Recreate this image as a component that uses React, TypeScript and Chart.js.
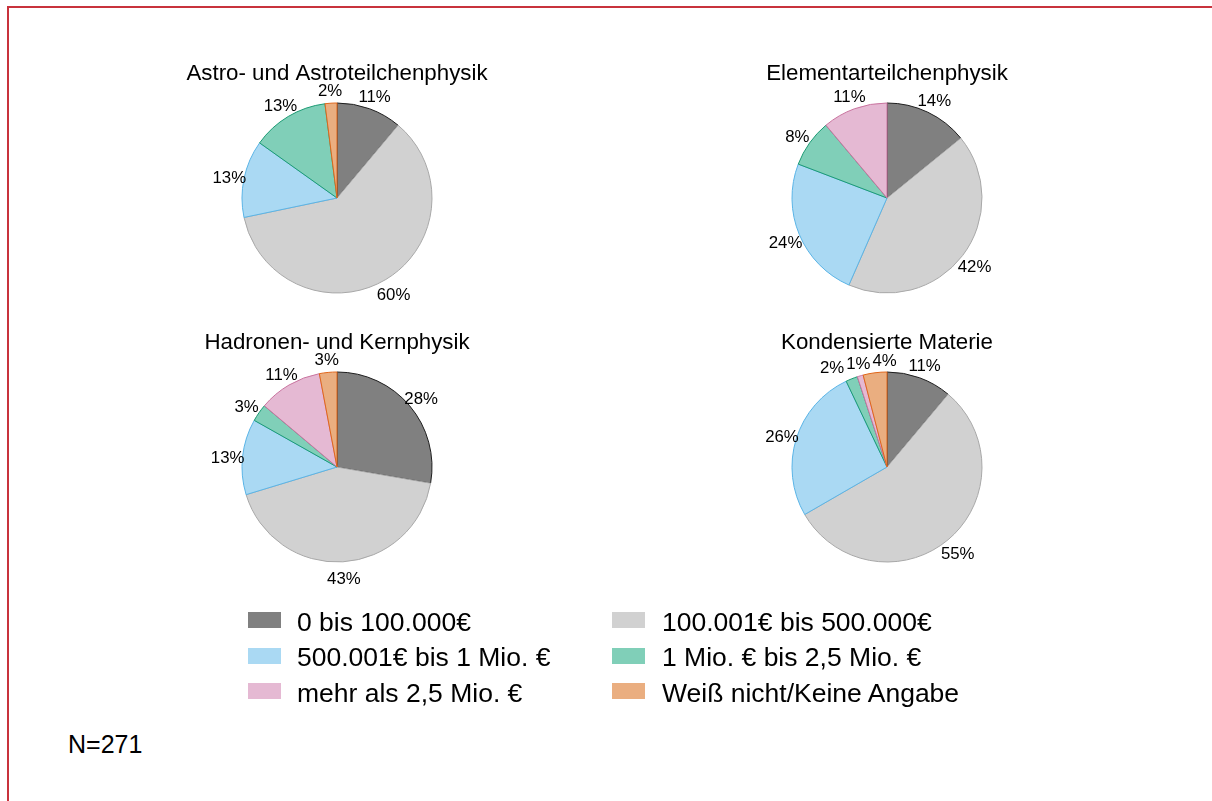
import React, { useEffect, useRef } from 'react';
import { Chart, registerables } from 'chart.js';

Chart.register(...registerables);

// ---------- data ----------
const categories = [
  '0 bis 100.000€',
  '100.001€ bis 500.000€',
  '500.001€ bis 1 Mio. €',
  '1 Mio. € bis 2,5 Mio. €',
  'mehr als 2,5 Mio. €',
  'Weiß nicht/Keine Angabe',
];
const panelTitles = [
  'Astro- und Astroteilchenphysik',
  'Elementarteilchenphysik',
  'Hadronen- und Kernphysik',
  'Kondensierte Materie',
];
const astroValues = [11, 60, 13, 13, 0, 2];
const elementarValues = [14, 42, 24, 8, 11, 0];
const hadronenValues = [28, 43, 13, 3, 11, 3];
const kondensiertValues = [11, 55, 26, 2, 1, 4];
const panelValues = [astroValues, elementarValues, hadronenValues, kondensiertValues];
const sampleNote = 'N=271';

// ---------- styles ----------
const FILLS = ['#808080', '#d1d1d1', '#aad9f3', '#80cfb8', '#e5b9d3', '#eaae80'];
const EDGES = ['#1e1e1e', '#a8a8a8', '#5ab4e6', '#1b9a73', '#c9749f', '#e0661a'];
const FONT = '"Liberation Sans", Arial, Helvetica, sans-serif';
const PIE_R = 95;
const CANVAS_W = 440;
const CANVAS_H = 280;
const CENTERS: [number, number][] = [
  [337, 198],
  [887, 198],
  [337, 467],
  [887, 467],
];

type Lbl = { text: string; x: number; y: number; w: number };

const pieDecor = {
  id: 'pieDecor',
  afterDraw(chart: any, _args: any, opts: any) {
    const ctx: CanvasRenderingContext2D = chart.ctx;
    const meta = chart.getDatasetMeta(0);
    const values: number[] = chart.data.datasets[0].data;
    const first = meta.data[0].getProps(['x', 'y', 'outerRadius'], true);
    ctx.save();
    ctx.fillStyle = '#000';
    ctx.textAlign = 'center';
    ctx.textBaseline = 'alphabetic';
    ctx.font = `22.3px ${FONT}`;
    ctx.fillText(opts.title, first.x, first.y - first.outerRadius - 23);

    ctx.font = `16.8px ${FONT}`;
    ctx.textBaseline = 'middle';
    const labels: Lbl[] = [];
    meta.data.forEach((arc: any, i: number) => {
      const v = values[i];
      if (!v) return;
      const p = arc.getProps(['startAngle', 'endAngle', 'outerRadius', 'x', 'y'], true);
      const mid = (p.startAngle + p.endAngle) / 2;
      const R = p.outerRadius + 15;
      const text = `${v}%`;
      labels.push({
        text,
        x: p.x + R * Math.cos(mid),
        y: p.y + R * Math.sin(mid) + 3,
        w: ctx.measureText(text).width,
      });
    });
    for (let it = 0; it < 40; it++) {
      for (let a = 0; a < labels.length; a++) {
        for (let b = a + 1; b < labels.length; b++) {
          const A = labels[a];
          const B = labels[b];
          if (Math.abs(A.y - B.y) >= 14) continue;
          const need = (A.w + B.w) / 2 + 2;
          const dx = B.x - A.x;
          if (Math.abs(dx) >= need) continue;
          const push = ((need - Math.abs(dx)) / 2) * (dx >= 0 ? 1 : -1);
          A.x -= push;
          B.x += push;
        }
      }
    }
    labels.forEach((l) => ctx.fillText(l.text, l.x, l.y));
    ctx.restore();
  },
};

function PiePanel({ title, values, cx, cy }: { title: string; values: number[]; cx: number; cy: number }) {
  const ref = useRef<HTMLCanvasElement | null>(null);
  useEffect(() => {
    if (!ref.current) return;
    const padV = (CANVAS_H - 2 * PIE_R - 1) / 2;
    const padH = (CANVAS_W - 2 * PIE_R - 1) / 2;
    const chart = new Chart(ref.current, {
      type: 'pie',
      data: {
        labels: categories,
        datasets: [
          {
            data: values,
            backgroundColor: FILLS,
            borderColor: EDGES,
            borderWidth: 1,
            hoverOffset: 0,
          },
        ],
      },
      options: {
        responsive: false,
        maintainAspectRatio: false,
        animation: false,
        layout: { padding: { top: padV, bottom: padV, left: padH, right: padH } },
        plugins: {
          legend: { display: false },
          tooltip: { enabled: false },
          title: { display: false },
          // @ts-ignore
          pieDecor: { title },
        },
      } as any,
      plugins: [pieDecor as any],
    });
    return () => chart.destroy();
  }, [title, values]);
  return (
    <canvas
      ref={ref}
      width={CANVAS_W}
      height={CANVAS_H}
      style={{
        position: 'absolute',
        left: cx - CANVAS_W / 2,
        top: cy - CANVAS_H / 2,
        width: CANVAS_W,
        height: CANVAS_H,
      }}
    />
  );
}

export default function App() {
  return (
    <div
      style={{
        position: 'absolute',
        left: 0,
        top: 0,
        width: 1212,
        height: 801,
        overflow: 'hidden',
        background: '#fff',
        fontFamily: FONT,
        color: '#000',
      }}
    >
      <div
        style={{
          position: 'absolute',
          left: 7,
          top: 6,
          width: 1240,
          height: 820,
          borderTop: '2px solid #c8323c',
          borderLeft: '2px solid #c8323c',
        }}
      />
      {panelTitles.map((t, i) => (
        <PiePanel key={t} title={t} values={panelValues[i]} cx={CENTERS[i][0]} cy={CENTERS[i][1]} />
      ))}
      {categories.map((c, i) => {
        const col = i % 2;
        const row = Math.floor(i / 2);
        const sx = col ? 612 : 248;
        const tx = col ? 662 : 297;
        const base = 631 + row * 35.5;
        return (
          <React.Fragment key={c}>
            <div
              style={{
                position: 'absolute',
                left: sx,
                top: base - 19,
                width: 33,
                height: 16,
                background: FILLS[i],
              }}
            />
            <div
              style={{
                position: 'absolute',
                left: tx,
                top: base - 22.5,
                fontSize: 26.5,
                lineHeight: '26.5px',
                whiteSpace: 'nowrap',
              }}
            >
              {c}
            </div>
          </React.Fragment>
        );
      })}
      <div
        style={{
          position: 'absolute',
          left: 68,
          top: 732,
          fontSize: 25,
          lineHeight: '25px',
          whiteSpace: 'nowrap',
        }}
      >
        {sampleNote}
      </div>
    </div>
  );
}
